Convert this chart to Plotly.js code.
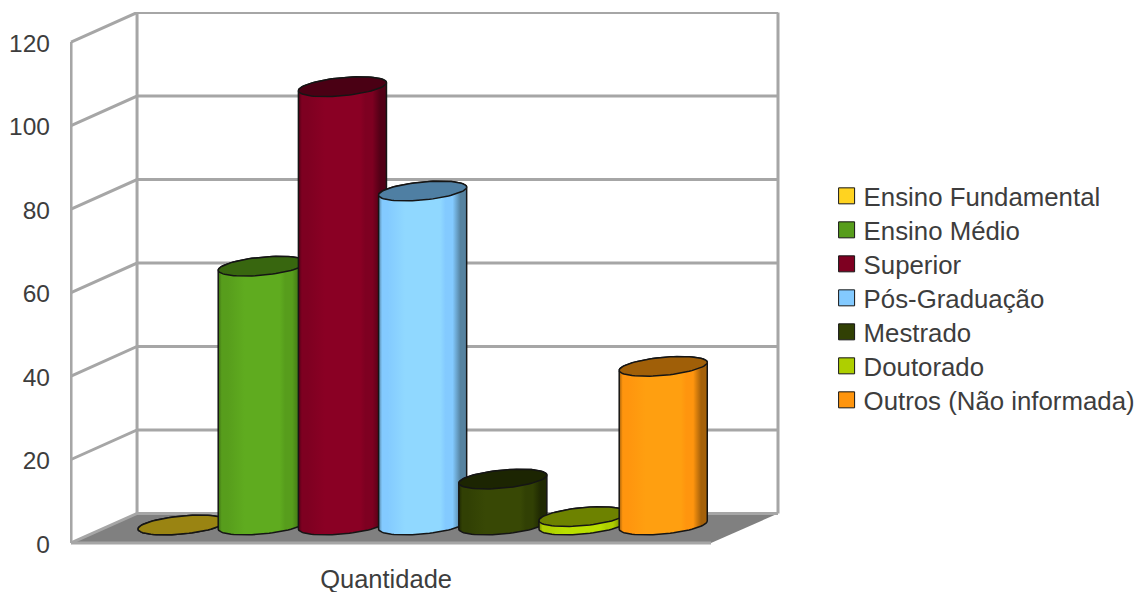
<!DOCTYPE html>
<html><head><meta charset="utf-8">
<script src="https://cdn.plot.ly/plotly-3.0.1.min.js"></script>
<style>html,body{margin:0;padding:0;background:#fff}#c{width:1137px;height:592px}</style>
</head><body><div id="c"></div>
<script>
const categories = ['Ensino Fundamental','Ensino Médio','Superior','Pós-Graduação','Mestrado','Doutorado','Outros (Não informada)'];
const values = [0, 62, 105, 80, 11, 2, 38];
const colors = ['#ffd320','#579d1c','#7e0021','#83caff','#314004','#aecf00','#ff950e'];
const lightColors = ['#ffd320','#5fab1f','#8a0024','#90d8ff','#384805','#b9df00','#ff9f10'];
const capColors = ['#9a8412','#38660f','#4a0014','#4f7fa3','#1c2502','#6d8200','#a05f08'];
const darkColors = ['#99801a','#3f7214','#520016','#55829f','#1f2902','#7a9000','#a5610a'];
const tickValues = [0,20,40,60,80,100,120];
const xLabel = 'Quantidade';

const wallColor = '#a6a6a6', outline = '#151515', textColor = '#3d3d3d';
const fontFamily = '"Liberation Sans", Arial, sans-serif';
// axis geometry (x unit = one bar slot)
const xFront = -1.384, xBack = -0.561, xBackR = 7.431, xFrontR = 6.596, depth = 7.07;
const rx = 0.549, ry = 2.16, skew = 0.96, barWidth = 0.9;

function arc(cx, lvl, t0, t1, n){
  const xs=[], ys=[];
  for(let j=0;j<=n;j++){
    const t=t0+(t1-t0)*j/n;
    xs.push(cx+rx*Math.cos(t)); ys.push(lvl+skew*Math.cos(t)+ry*Math.sin(t));
  }
  return [xs,ys];
}

const traces = [];
// floor
traces.push({type:'scatter',mode:'lines',x:[xFront,xFrontR,xBackR,xBack,xFront],y:[0,0,depth,depth,0],
  fill:'toself',fillcolor:'#808080',line:{width:0},showlegend:false,hoverinfo:'skip',xaxis:'x',yaxis:'y'});
// walls and grid
const wx=[], wy=[];
tickValues.forEach(t=>{ wx.push(xFront,xBack,xBackR,null); wy.push(t,t+depth,t+depth,null); });
const topV = tickValues[tickValues.length-1];
wx.push(xFront,xFront,null,xBack,xBack,null,xBackR,xBackR,null,xFront,xFrontR);
wy.push(0,topV,null,depth,topV+depth,null,depth,topV+depth,null,0,0);
traces.push({type:'scatter',mode:'lines',x:wx,y:wy,line:{color:wallColor,width:3},connectgaps:false,
  showlegend:false,hoverinfo:'skip',xaxis:'x',yaxis:'y'});

categories.forEach((name,i)=>{
  const z=i+1, v=values[i];
  traces.push({type:'bar',name:name,x:[i],y:[v],width:barWidth,marker:{color:colors[i],line:{color:outline,width:1}},
    xaxis:'x',yaxis:'y2',zorder:z,showlegend:true,hoverinfo:'skip'});
  const up=arc(i,v,Math.PI,0,40), low=arc(i,0,0,-Math.PI,40);
  traces.push({type:'scatter',mode:'lines',x:up[0].concat(low[0],[up[0][0]]),y:up[1].concat(low[1],[up[1][0]]),
    fill:'toself',fillcolor:colors[i],
    fillgradient:{type:'horizontal',colorscale:[[0,darkColors[i]],[0.04,colors[i]],[0.1,colors[i]],[0.3,lightColors[i]],[0.7,lightColors[i]],[0.76,colors[i]],[0.84,colors[i]],[0.93,darkColors[i]],[1,darkColors[i]]]},
    line:{color:outline,width:1.5},
    xaxis:'x',yaxis:'y2',zorder:z,showlegend:false,hoverinfo:'skip'});
  const cap=arc(i,v,0,2*Math.PI,80);
  traces.push({type:'scatter',mode:'lines',x:cap[0],y:cap[1],fill:'toself',fillcolor:capColors[i],
    line:{color:outline,width:1.5},xaxis:'x',yaxis:'y2',zorder:z,showlegend:false,hoverinfo:'skip'});
});

const layout = {
  width:1137,height:592,paper_bgcolor:'#fff',plot_bgcolor:'rgba(0,0,0,0)',
  margin:{l:70,r:357,t:12,b:46,pad:0},
  font:{family:fontFamily,size:25.5,color:textColor},
  barmode:'overlay',showlegend:true,
  xaxis:{range:[-1.397,7.456],tickmode:'array',tickvals:[2.544],ticktext:[xLabel],showgrid:false,zeroline:false,showline:false,
    ticks:'',ticklabelstandoff:15,tickfont:{family:fontFamily,size:25.5,color:textColor},fixedrange:true},
  yaxis:{range:[-0.72,127.2],tickmode:'array',tickvals:tickValues,ticktext:tickValues.map(String),showgrid:false,zeroline:false,showline:false,
    ticks:'',ticklabelstandoff:19,ticklabelshift:1,tickfont:{family:fontFamily,size:24.5,color:textColor},fixedrange:true},
  yaxis2:{overlaying:'y',range:[-5.03,122.89],visible:false,fixedrange:true},
  legend:{xref:'container',yref:'container',x:0.727,xanchor:'left',y:0.7085,yanchor:'top',bgcolor:'rgba(0,0,0,0)',
    font:{family:fontFamily,size:25.8,color:textColor},itemclick:false,itemdoubleclick:false}
};

Plotly.newPlot('c',traces,layout,{displayModeBar:false,responsive:false}).then(gd=>{
  // legend rows: tighter pitch, larger swatches, as in the reference
  const items=gd.querySelectorAll('.legend .traces');
  const y0=items.length? +/,\s*([\d.]+)\)/.exec(items[0].getAttribute('transform'))[1] : 0;
  items.forEach((el,i)=>{
    el.setAttribute('transform','translate(0,'+(y0+34*i)+')');
    const p=el.querySelector('.legendpoints path');
    if(p) p.setAttribute('d','M8,8H-8V-8H8Z');
    const t=el.querySelector('.legendtext');
    if(t) t.setAttribute('x',(+t.getAttribute('x'))-3);
  });
});
</script></body></html>
